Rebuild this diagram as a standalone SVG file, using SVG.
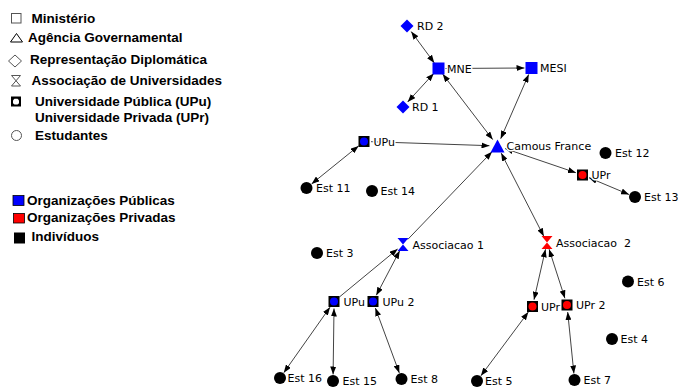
<svg xmlns="http://www.w3.org/2000/svg" width="678" height="387" viewBox="0 0 678 387">
<defs>
<marker id="arr" viewBox="0 0 8 6" refX="8" refY="3" markerWidth="8" markerHeight="6" markerUnits="userSpaceOnUse" orient="auto-start-reverse">
<path d="M0,0 L8,3 L0,6 Z" fill="#000"/>
</marker>
</defs>
<style>
.leg{font-family:"Liberation Sans",Arial,sans-serif;font-weight:bold;font-size:13.5px;fill:#000}
.lbl{font-family:"DejaVu Sans",Verdana,sans-serif;font-size:11px;fill:#000;stroke:#fff;stroke-width:3;paint-order:stroke;stroke-linejoin:round}
.e{stroke:#444;stroke-width:1;fill:none}
.b{marker-start:url(#arr);marker-end:url(#arr)}
.s{marker-end:url(#arr)}
.pub{fill:#0000ff}
.pri{fill:#ff0000}
.est{fill:#000}
.uni{fill:#000}
</style>
<rect width="678" height="387" fill="#fff"/>

<g id="legend">
<rect x="11.5" y="13.5" width="9.5" height="9.5" fill="none" stroke="#555" stroke-width="1"/>
<text class="leg" x="31.5" y="22.5">Ministério</text>
<path d="M16.5,33.5 L22.5,42 L10.5,42 Z" fill="none" stroke="#000" stroke-width="1"/>
<text class="leg" x="28" y="42">Agência Governamental</text>
<path d="M15,55 L21.5,61 L15,67 L8.5,61 Z" fill="none" stroke="#555" stroke-width="1"/>
<text class="leg" x="30" y="64">Representação Diplomática</text>
<path d="M11.5,75.5 H20.5 M11.5,86 H20.5 M11.5,75.5 L20.5,86 M20.5,75.5 L11.5,86" fill="none" stroke="#555" stroke-width="1"/>
<text class="leg" x="31.5" y="85">Associação de Universidades</text>
<rect x="11" y="96.5" width="10" height="10" fill="#000"/>
<path d="M14.5,98.8 H17.5 L19,100.3 V103.2 L17.5,104.5 H14.5 L13,103.2 V100.3 Z" fill="#fff"/>
<text class="leg" x="35" y="105.5">Universidade Pública (UPu)</text>
<text class="leg" x="35" y="122">Universidade Privada (UPr)</text>
<circle cx="16.5" cy="135.5" r="5" fill="none" stroke="#555" stroke-width="1"/>
<text class="leg" x="35" y="140">Estudantes</text>
<rect x="13" y="195.5" width="11" height="10" fill="#0000ff" stroke="#000" stroke-width="0.8"/>
<text class="leg" x="27" y="204.5">Organizações Públicas</text>
<rect x="13.5" y="213.5" width="11" height="9.5" fill="#ff0000" stroke="#000" stroke-width="0.8"/>
<text class="leg" x="27" y="222">Organizações Privadas</text>
<rect x="14" y="232.5" width="11" height="11" fill="#000"/>
<text class="leg" x="31.5" y="241">Indivíduos</text>
</g>

<g id="connectors">
<line class="e b" x1="411.2" y1="31.6" x2="434.3" y2="62.9"/>
<line class="e b" x1="407.7" y1="101.9" x2="433.8" y2="73.4"/>
<line class="e s" x1="445.5" y1="68.5" x2="524.5" y2="68"/>
<line class="e b" x1="442.7" y1="74.1" x2="492.7" y2="139.6"/>
<line class="e b" x1="528.7" y1="74.4" x2="500.7" y2="138.7"/>
<line class="e s" x1="371" y1="141.7" x2="489.5" y2="145.7"/>
<line class="e b" x1="311.6" y1="183.9" x2="358.6" y2="145.9"/>
<line class="e b" x1="505.1" y1="148.6" x2="575.9" y2="172.7"/>
<line class="e b" x1="589" y1="177.7" x2="629" y2="194.5"/>
<line class="e s" x1="407.8" y1="239.4" x2="492" y2="151.8"/>
<line class="e b" x1="501.2" y1="153.1" x2="543.8" y2="236.3"/>
<line class="e s" x1="339.4" y1="297" x2="397.6" y2="249"/>
<line class="e b" x1="399.7" y1="250.7" x2="376.3" y2="295.3"/>
<line class="e b" x1="330" y1="307.2" x2="283.8" y2="372.7"/>
<line class="e b" x1="334" y1="308.5" x2="333.1" y2="374.5"/>
<line class="e b" x1="375.4" y1="308.1" x2="399.3" y2="372.9"/>
<line class="e b" x1="545.5" y1="249.3" x2="534" y2="299.7"/>
<line class="e b" x1="549.1" y1="249.2" x2="564.9" y2="298.3"/>
<line class="e b" x1="528.3" y1="312.1" x2="480.9" y2="375.8"/>
<line class="e b" x1="567.7" y1="312" x2="573.9" y2="373.5"/>
</g>

<g id="n-rd2"><path class="pub" d="M407,19.5 L413.5,26 L407,32.5 L400.5,26 Z"/><text class="lbl" x="417" y="30">RD 2</text></g>
<g id="n-mne"><rect class="pub" x="432.5" y="62.5" width="12" height="12"/><text class="lbl" x="447" y="72.5">MNE</text></g>
<g id="n-mesi"><rect class="pub" x="525.5" y="62" width="12" height="12"/><text class="lbl" x="540" y="72">MESI</text></g>
<g id="n-rd1"><path class="pub" d="M403,100.5 L409.5,107 L403,113.5 L396.5,107 Z"/><text class="lbl" x="412" y="111">RD 1</text></g>
<g id="n-cf"><path class="pub" d="M497.5,139.5 L504.5,152.5 L490.5,152.5 Z"/><text class="lbl" x="506.5" y="149.5">Camous France</text></g>
<g id="n-upu-top"><rect class="uni" x="358.5" y="136" width="11" height="11"/><circle class="pub" cx="364" cy="141.5" r="4"/><text class="lbl" x="373.5" y="145.5">UPu</text></g>
<g id="n-est11"><circle class="est" cx="306.5" cy="188" r="6"/><text class="lbl" x="316" y="192">Est 11</text></g>
<g id="n-est14"><circle class="est" cx="372" cy="191" r="6"/><text class="lbl" x="380.5" y="195">Est 14</text></g>
<g id="n-est12"><circle class="est" cx="605.5" cy="153" r="6"/><text class="lbl" x="615" y="157">Est 12</text></g>
<g id="n-upr-top"><rect class="uni" x="577" y="169.5" width="11" height="11"/><circle class="pri" cx="582.5" cy="175" r="4"/><text class="lbl" x="591.5" y="179">UPr</text></g>
<g id="n-est13"><circle class="est" cx="635" cy="197" r="6"/><text class="lbl" x="644" y="201">Est 13</text></g>
<g id="n-assoc1"><path class="pub" d="M397.5,238 H408.5 L403,244.5 Z M403,244.5 L408.5,251 H397.5 Z"/><text class="lbl" x="412.5" y="248.5">Associacao 1</text></g>
<g id="n-est3"><circle class="est" cx="317" cy="253" r="6"/><text class="lbl" x="326" y="257">Est 3</text></g>
<g id="n-assoc2"><path class="pri" d="M541.5,236 H552.5 L547,242.5 Z M547,242.5 L552.5,249 H541.5 Z"/><text class="lbl" x="556" y="246.5" xml:space="preserve">Associacao  2</text></g>
<g id="n-est6"><circle class="est" cx="628" cy="281.5" r="6"/><text class="lbl" x="637" y="285.5">Est 6</text></g>
<g id="n-upu-low"><rect class="uni" x="328.5" y="296" width="11" height="11"/><circle class="pub" cx="334" cy="301.5" r="4"/><text class="lbl" x="343.5" y="305.5">UPu</text></g>
<g id="n-upu2"><rect class="uni" x="367.5" y="296" width="11" height="11"/><circle class="pub" cx="373" cy="301.5" r="4"/><text class="lbl" x="382.5" y="305.5">UPu 2</text></g>
<g id="n-upr-low"><rect class="uni" x="527" y="301" width="11" height="11"/><circle class="pri" cx="532.5" cy="306.5" r="4"/><text class="lbl" x="541" y="310.5">UPr</text></g>
<g id="n-upr2"><rect class="uni" x="561.5" y="299.5" width="11" height="11"/><circle class="pri" cx="567" cy="305" r="4"/><text class="lbl" x="576" y="309">UPr 2</text></g>
<g id="n-est4"><circle class="est" cx="612" cy="339" r="6"/><text class="lbl" x="620.5" y="343">Est 4</text></g>
<g id="n-est16"><circle class="est" cx="280" cy="378" r="6"/><text class="lbl" x="287.5" y="382">Est 16</text></g>
<g id="n-est15"><circle class="est" cx="333" cy="381" r="6"/><text class="lbl" x="342.5" y="385">Est 15</text></g>
<g id="n-est8"><circle class="est" cx="401.5" cy="379" r="6"/><text class="lbl" x="410.5" y="383">Est 8</text></g>
<g id="n-est5"><circle class="est" cx="477" cy="381" r="6"/><text class="lbl" x="485" y="385">Est 5</text></g>
<g id="n-est7"><circle class="est" cx="574.5" cy="380" r="6"/><text class="lbl" x="583.5" y="384">Est 7</text></g>
</svg>
